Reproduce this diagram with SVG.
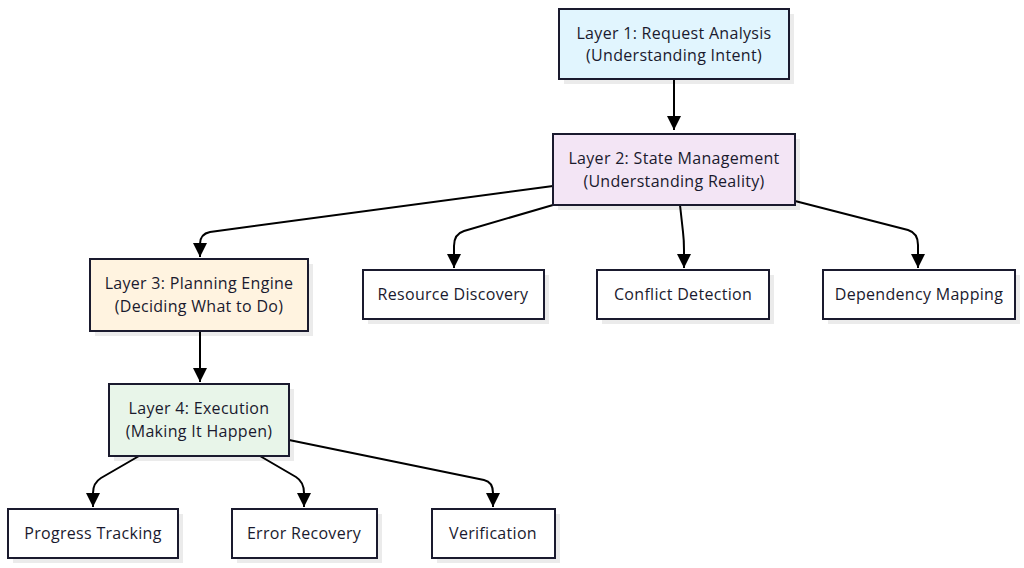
<svg xmlns="http://www.w3.org/2000/svg" width="1024" height="568" viewBox="0 0 1024 568">
<defs>
<style>
.box{stroke:#1a1a2e;stroke-width:2}
.sh{fill:#000;opacity:0.08}
.t{font-family:"Open Sans","Noto Sans",sans-serif;font-size:16px;letter-spacing:0.3px;fill:#1a1a2e;text-anchor:middle}
.e{fill:none;stroke:#000;stroke-width:2}
</style>
<marker id="arr" viewBox="0 0 12 12" refX="12" refY="6" markerWidth="14" markerHeight="14" markerUnits="userSpaceOnUse" orient="auto">
<path d="M0,0 L12,6 L0,12 Z" fill="#000"/>
</marker>
</defs>
<rect width="1024" height="568" fill="#fff"/>
<g id="connectors">
<path class="e" d="M674,79 L674,130" marker-end="url(#arr)"/>
<path class="e" d="M553,186 L210,232 Q200,234 200,244 L200,257" marker-end="url(#arr)"/>
<path class="e" d="M553,205 L464,231 Q454,234 454,246 L454,268" marker-end="url(#arr)"/>
<path class="e" d="M680,205 L683,232 Q684,240 684,250 L684,268" marker-end="url(#arr)"/>
<path class="e" d="M795,201 L908,230 Q918,233 918,245 L918,268" marker-end="url(#arr)"/>
<path class="e" d="M200,331 L200,382" marker-end="url(#arr)"/>
<path class="e" d="M139,456 L101,478 Q93,483 93,493 L93,507" marker-end="url(#arr)"/>
<path class="e" d="M260,456 L296,477 Q304,482 304,493 L304,507" marker-end="url(#arr)"/>
<path class="e" d="M289,440 L484,480 Q493,482 493,493 L493,507" marker-end="url(#arr)"/>
</g>
<g id="layer1">
<rect class="sh" x="564" y="14" width="230" height="70"/>
<rect class="box" x="559" y="9" width="230" height="70" fill="#e1f5fe"/>
<text class="t" x="674" y="39">Layer 1: Request Analysis</text>
<text class="t" x="674" y="61">(Understanding Intent)</text>
</g>
<g id="layer2">
<rect class="sh" x="558" y="139" width="242" height="71"/>
<rect class="box" x="553" y="134" width="242" height="71" fill="#f3e5f5"/>
<text class="t" x="674" y="164">Layer 2: State Management</text>
<text class="t" x="674" y="187">(Understanding Reality)</text>
</g>
<g id="layer3">
<rect class="sh" x="95" y="264" width="218" height="72"/>
<rect class="box" x="90" y="259" width="218" height="72" fill="#fff3e0"/>
<text class="t" x="199" y="289">Layer 3: Planning Engine</text>
<text class="t" x="199" y="312">(Deciding What to Do)</text>
</g>
<g id="resource">
<rect class="sh" x="368" y="275" width="181" height="49"/>
<rect class="box" x="363" y="270" width="181" height="49" fill="#fff"/>
<text class="t" x="453" y="300">Resource Discovery</text>
</g>
<g id="conflict">
<rect class="sh" x="602" y="275" width="172" height="49"/>
<rect class="box" x="597" y="270" width="172" height="49" fill="#fff"/>
<text class="t" x="683" y="300">Conflict Detection</text>
</g>
<g id="dependency">
<rect class="sh" x="828" y="275" width="192" height="49"/>
<rect class="box" x="823" y="270" width="192" height="49" fill="#fff"/>
<text class="t" x="919" y="300">Dependency Mapping</text>
</g>
<g id="layer4">
<rect class="sh" x="114" y="389" width="180" height="72"/>
<rect class="box" x="109" y="384" width="180" height="72" fill="#e8f5e9"/>
<text class="t" x="199" y="414">Layer 4: Execution</text>
<text class="t" x="199" y="437">(Making It Happen)</text>
</g>
<g id="progress">
<rect class="sh" x="13" y="514" width="170" height="49"/>
<rect class="box" x="8" y="509" width="170" height="49" fill="#fff"/>
<text class="t" x="93" y="539">Progress Tracking</text>
</g>
<g id="error">
<rect class="sh" x="237" y="514" width="145" height="49"/>
<rect class="box" x="232" y="509" width="145" height="49" fill="#fff"/>
<text class="t" x="304" y="539">Error Recovery</text>
</g>
<g id="verification">
<rect class="sh" x="437" y="514" width="123" height="49"/>
<rect class="box" x="432" y="509" width="123" height="49" fill="#fff"/>
<text class="t" x="493" y="539">Verification</text>
</g>
</svg>
